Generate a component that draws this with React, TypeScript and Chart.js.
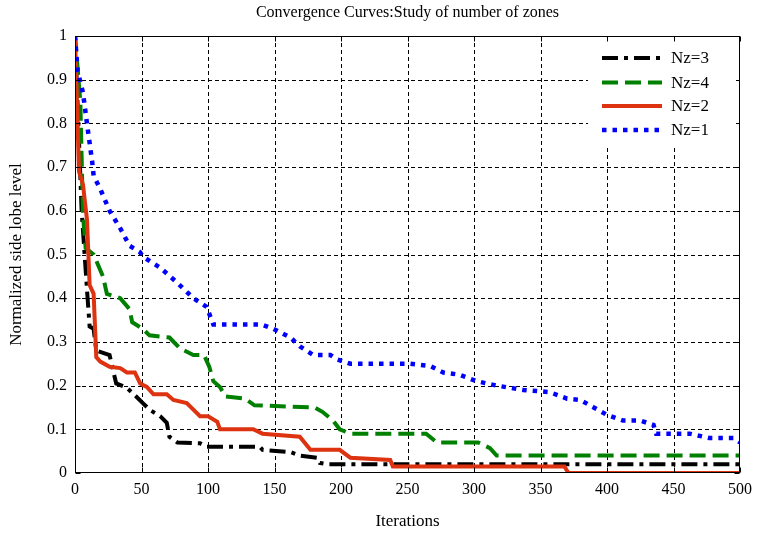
import React, { useEffect, useRef } from "react";
import { Chart, registerables } from "chart.js";

Chart.register(...registerables);

const titleText = "Convergence Curves:Study of number of zones";
const xLabel = "Iterations";
const yLabel = "Normalized side lobe level";

const xMin = 0;
const xMax = 500;
const xStep = 50;
const yMin = 0;
const yMax = 1;
const yStep = 0.1;

// Nz=3 (black dash-dot)
const nz3Iter = [0, 5, 9, 11, 14, 16, 26, 29, 31, 39, 46, 51, 56, 64, 69, 71, 77, 94, 99, 139, 141, 162, 169, 182, 184, 190, 500];
const nz3Val = [1.0, 0.6, 0.42, 0.335, 0.33, 0.28, 0.27, 0.23, 0.205, 0.195, 0.175, 0.16, 0.145, 0.13, 0.115, 0.083, 0.07, 0.068, 0.06, 0.06, 0.053, 0.048, 0.04, 0.035, 0.023, 0.02, 0.02];

// Nz=4 (green dashed)
const nz4Iter = [0, 4, 6, 8, 14, 21, 24, 34, 41, 43, 51, 56, 71, 79, 89, 97, 101, 104, 109, 113, 128, 135, 180, 186, 194, 199, 207, 264, 272, 303, 312, 317, 500];
const nz4Val = [1.0, 0.85, 0.59, 0.515, 0.5, 0.45, 0.41, 0.4, 0.375, 0.345, 0.33, 0.315, 0.31, 0.285, 0.27, 0.27, 0.243, 0.21, 0.197, 0.175, 0.17, 0.155, 0.15, 0.14, 0.12, 0.1, 0.09, 0.09, 0.07, 0.07, 0.057, 0.04, 0.04];

// Nz=2 (red solid)
const nz2Iter = [0, 3, 6, 9, 11, 14, 16, 19, 26, 34, 39, 45, 49, 54, 59, 69, 74, 84, 89, 94, 100, 107, 109, 134, 141, 169, 177, 199, 207, 237, 239, 368, 371, 500];
const nz2Val = [1.0, 0.69, 0.66, 0.58, 0.43, 0.41, 0.265, 0.255, 0.243, 0.24, 0.23, 0.23, 0.205, 0.197, 0.18, 0.18, 0.167, 0.16, 0.145, 0.13, 0.13, 0.117, 0.1, 0.1, 0.09, 0.083, 0.053, 0.053, 0.035, 0.03, 0.015, 0.015, 0.0, 0.0];

// Nz=1 (blue dotted)
const nz1Iter = [0, 2, 6, 9, 13, 14, 19, 26, 34, 41, 49, 51, 64, 77, 89, 99, 104, 140, 149, 162, 169, 179, 192, 197, 207, 252, 267, 277, 289, 302, 317, 337, 357, 370, 380, 390, 400, 412, 425, 435, 437, 462, 477, 495, 500];
const nz1Val = [1.0, 0.92, 0.87, 0.8, 0.71, 0.68, 0.65, 0.6, 0.56, 0.52, 0.505, 0.495, 0.47, 0.435, 0.4, 0.38, 0.34, 0.34, 0.33, 0.31, 0.29, 0.27, 0.27, 0.26, 0.25, 0.25, 0.245, 0.23, 0.225, 0.21, 0.2, 0.19, 0.185, 0.17, 0.167, 0.15, 0.133, 0.12, 0.12, 0.11, 0.09, 0.09, 0.08, 0.08, 0.07];

const legendLabels = ["Nz=3", "Nz=4", "Nz=2", "Nz=1"];

const FONT = "'Liberation Serif', 'Times New Roman', serif";

type Style = { color: string; width: number; dash: number[] };
const styles: Style[] = [
  { color: "#000000", width: 4, dash: [16, 6, 4, 6] },
  { color: "#008000", width: 4, dash: [16, 7] },
  { color: "#dd3311", width: 4, dash: [] },
  { color: "#0000ff", width: 4.5, dash: [4.5, 6] },
];

const toPoints = (xs: number[], ys: number[]) => xs.map((x, i) => ({ x, y: ys[i] }));

const framePlugin = {
  id: "frameAndLegend",
  beforeDatasetsDraw(chart: any) {
    const { ctx, chartArea } = chart;
    const xs = chart.scales.x;
    const ys = chart.scales.y;
    ctx.save();
    ctx.strokeStyle = "#000";
    ctx.lineWidth = 1;
    ctx.setLineDash([4, 3]);
    ctx.beginPath();
    for (let v = xMin + xStep; v < xMax - 1e-9; v += xStep) {
      const px = Math.round(xs.getPixelForValue(v)) + 0.5;
      ctx.moveTo(px, chartArea.top);
      ctx.lineTo(px, chartArea.bottom);
    }
    const n = Math.round((yMax - yMin) / yStep);
    for (let i = 1; i < n; i++) {
      const py = Math.round(ys.getPixelForValue(yMin + i * yStep)) + 0.5;
      ctx.moveTo(chartArea.left, py);
      ctx.lineTo(chartArea.right, py);
    }
    ctx.stroke();
    ctx.restore();
  },
  afterDatasetsDraw(chart: any) {
    const { ctx, chartArea } = chart;
    const l = Math.round(chartArea.left) + 0.5;
    const r = Math.round(chartArea.right) - 0.5;
    const t = Math.round(chartArea.top) + 0.5;
    const b = Math.round(chartArea.bottom) - 0.5;
    ctx.save();
    ctx.setLineDash([]);
    ctx.strokeStyle = "#000";
    ctx.lineWidth = 1;
    const xs = chart.scales.x;
    const ys = chart.scales.y;
    ctx.beginPath();
    for (let v = xMin; v <= xMax + 1e-9; v += xStep) {
      const px = Math.round(xs.getPixelForValue(v)) + 0.5;
      ctx.moveTo(px, b);
      ctx.lineTo(px, b - 5);
      ctx.moveTo(px, t);
      ctx.lineTo(px, t + 5);
    }
    for (let i = 0; i <= Math.round((yMax - yMin) / yStep); i++) {
      const v = yMin + i * yStep;
      const py = Math.round(ys.getPixelForValue(v)) + 0.5;
      ctx.moveTo(l, py);
      ctx.lineTo(l + 5, py);
      ctx.moveTo(r, py);
      ctx.lineTo(r - 5, py);
    }
    ctx.stroke();

    // legend
    const boxL = chartArea.right - 152;
    const boxT = chartArea.top + 7;
    ctx.fillStyle = "#fff";
    ctx.fillRect(boxL, boxT, 148, 102);
    const rows = [22, 46.5, 70, 94];
    ctx.font = `17px ${FONT}`;
    ctx.textBaseline = "middle";
    ctx.textAlign = "left";
    legendLabels.forEach((lab, i) => {
      const st = styles[i];
      const y = chartArea.top + rows[i];
      ctx.beginPath();
      ctx.strokeStyle = st.color;
      ctx.lineWidth = st.width;
      ctx.lineCap = "butt";
      ctx.setLineDash(st.dash);
      ctx.moveTo(chartArea.right - 138, y);
      ctx.lineTo(chartArea.right - 78, y);
      ctx.stroke();
      ctx.setLineDash([]);
      ctx.fillStyle = "#000";
      ctx.fillText(lab, chartArea.right - 69, y + 1);
    });

    ctx.strokeStyle = "#000";
    ctx.lineWidth = 1;
    ctx.strokeRect(l, t, r - l, b - t);
    ctx.restore();
  },
  afterDraw(chart: any) {
    const { ctx, chartArea } = chart;
    ctx.save();
    ctx.font = `16px ${FONT}`;
    ctx.fillStyle = "#000";
    ctx.textAlign = "center";
    ctx.textBaseline = "middle";
    ctx.fillText(titleText, (chartArea.left + chartArea.right) / 2, 13);
    ctx.restore();
  },
};

export default function App() {
  const ref = useRef<HTMLCanvasElement | null>(null);
  useEffect(() => {
    document.body.style.margin = "0";
    if (!ref.current) return;
    const iters = [nz3Iter, nz4Iter, nz2Iter, nz1Iter];
    const vals = [nz3Val, nz4Val, nz2Val, nz1Val];
    const orders = [3, 2, 1, 0];
    const chart = new Chart(ref.current, {
      type: "line",
      data: {
        datasets: legendLabels.map((lab, i) => ({
          label: lab,
          data: toPoints(iters[i], vals[i]),
          borderColor: styles[i].color,
          backgroundColor: styles[i].color,
          borderWidth: styles[i].width,
          borderDash: styles[i].dash,
          borderCapStyle: "butt",
          borderJoinStyle: "miter",
          pointRadius: 0,
          tension: 0,
          fill: false,
          order: orders[i],
        })),
      },
      options: {
        responsive: false,
        animation: false,
        devicePixelRatio: 1,
        layout: { padding: { top: 36, right: 19, left: 0, bottom: 0 } },
        plugins: {
          legend: { display: false },
          title: { display: false },
          tooltip: { enabled: false },
        },
        scales: {
          x: {
            type: "linear",
            min: xMin,
            max: xMax,
            afterFit: (s: any) => {
              s.height = 60;
            },
            ticks: {
              stepSize: xStep,
              color: "#000",
              font: { family: FONT, size: 16 },
              padding: 7,
              maxRotation: 0,
            },
            grid: { display: false, drawTicks: false },
            border: { display: false },
            title: {
              display: true,
              text: xLabel,
              color: "#000",
              font: { family: FONT, size: 17 },
              padding: { top: 0, bottom: 1 },
            },
          },
          y: {
            type: "linear",
            min: yMin,
            max: yMax,
            afterFit: (s: any) => {
              s.width = 75;
            },
            ticks: {
              stepSize: yStep,
              color: "#000",
              font: { family: FONT, size: 16 },
              padding: 8,
              callback: (v: any) => String(Math.round(Number(v) * 10) / 10),
            },
            grid: { display: false, drawTicks: false },
            border: { display: false },
            title: {
              display: true,
              text: yLabel,
              color: "#000",
              font: { family: FONT, size: 17 },
              padding: { top: 6, bottom: 0 },
            },
          },
        },
      },
      plugins: [framePlugin],
    } as any);
    return () => chart.destroy();
  }, []);
  return (
    <div style={{ width: 759, height: 533 }}>
      <canvas ref={ref} width={759} height={533} style={{ display: "block" }} />
    </div>
  );
}
